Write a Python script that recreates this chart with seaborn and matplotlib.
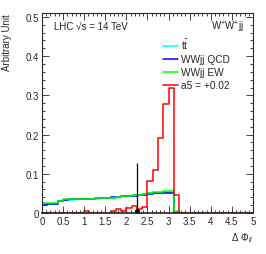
import numpy as np
import pandas as pd
import seaborn as sns
import matplotlib
matplotlib.use("Agg")
import matplotlib.pyplot as plt
from matplotlib.lines import Line2D
from matplotlib.ticker import MultipleLocator

# bin edges: 0.125 wide, values given up to 3.25, rest empty
bin_width = 0.125
edges = [round(i * bin_width, 4) for i in range(41)]

ttbar = [0.024, 0.023, 0.024, 0.031, 0.034, 0.034, 0.035, 0.035, 0.035, 0.036,
         0.036, 0.037, 0.038, 0.039, 0.041, 0.042, 0.043, 0.045, 0.046, 0.048,
         0.050, 0.051, 0.052, 0.053, 0.054, 0.004]
wwjj_qcd = [0.021, 0.022, 0.023, 0.030, 0.034, 0.035, 0.035, 0.036, 0.036, 0.036,
            0.037, 0.037, 0.038, 0.040, 0.041, 0.042, 0.043, 0.044, 0.046, 0.047,
            0.048, 0.050, 0.051, 0.052, 0.052, 0.0]
wwjj_ew = [0.025, 0.025, 0.025, 0.030, 0.035, 0.035, 0.035, 0.035, 0.036, 0.036,
           0.037, 0.037, 0.038, 0.039, 0.041, 0.042, 0.043, 0.045, 0.047, 0.048,
           0.051, 0.053, 0.054, 0.055, 0.055, 0.006]
a5 = [0, 0, 0, 0, 0, 0, 0, 0, 0.004, 0,
      0, 0, 0, 0.006, 0.009, 0.004, 0.013, 0.018, 0.010, 0.014,
      0.082, 0.110, 0.192, 0.279, 0.319, 0.045]

# single point (with error bar) from the QCD sample
spike_x = [2.25]
spike_y = [0.006]
spike_err = [0.121]

labels = ["t$\\bar{\\rm t}$", "WWjj QCD", "WWjj EW", "a5 = +0.02"]
colors = ["#00ffff", "#0000ff", "#00ff00", "#ff0000"]

n_bins = len(edges) - 1
centers = [e + bin_width / 2 for e in edges[:-1]]
rows = []
for name, vals in zip(labels, [ttbar, wwjj_qcd, wwjj_ew, a5]):
    full = list(vals) + [0.0] * (n_bins - len(vals))
    for c, v in zip(centers, full):
        rows.append({"x": c, "w": v, "sample": name})
df = pd.DataFrame(rows)

sns.set_style("ticks")
plt.rcParams["font.family"] = ["Liberation Sans", "DejaVu Sans"]
plt.rcParams["mathtext.fontset"] = "custom"
plt.rcParams["mathtext.rm"] = "Liberation Sans"
plt.rcParams["mathtext.it"] = "Liberation Sans:italic"

fig = plt.figure(figsize=(2.66, 2.55), dpi=100)
ax = fig.add_axes([0.158, 0.161, 0.793, 0.784])

for name, col in zip(labels, colors):
    sub = df[df["sample"] == name].reset_index(drop=True)
    sns.histplot(data=sub, x="x", weights="w", bins=edges,
                 element="step", fill=False, color=col, linewidth=1.1,
                 zorder=1, ax=ax)
    if name == "WWjj EW":
        ax.errorbar(spike_x, spike_y, yerr=spike_err, fmt="o", color="black",
                    ms=2.5, elinewidth=0.9, capsize=0, zorder=1.5)

ax.set_xlim(0, 5)
ax.set_ylim(0, 0.51)
ax.xaxis.set_minor_locator(MultipleLocator(0.1))
ax.yaxis.set_minor_locator(MultipleLocator(0.02))
ax.set_xticks([i * 0.5 for i in range(11)])
ax.set_xticklabels(["0", "0.5", "1", "1.5", "2", "2.5", "3", "3.5", "4", "4.5", "5"])
ax.set_yticks([0, 0.1, 0.2, 0.3, 0.4, 0.5])
ax.set_yticklabels(["0", "0.1", "0.2", "0.3", "0.4", "0.5"])
ax.tick_params(which="both", direction="in", top=True, right=True,
               labelsize=7, width=0.6, pad=2)
ax.tick_params(which="major", length=5)
ax.tick_params(which="minor", length=2.5)
for s in ax.spines.values():
    s.set_linewidth(0.8)
    s.set_zorder(3)
ax.spines["bottom"].set_linewidth(1.2)

ax.set_xlabel("Δ Φ$_{ll}$", loc="right", fontsize=7, labelpad=3)
ax.set_ylabel("Arbitrary Unit", loc="top", fontsize=7, labelpad=10)

ax.text(0.055, 0.935, "LHC √s = 14 TeV", transform=ax.transAxes,
        fontsize=7, va="center", ha="left")
ax.text(0.955, 0.935, "W$^{+}$W$^{+}$jj", transform=ax.transAxes,
        fontsize=7, va="center", ha="right")

handles = [Line2D([], [], color=c, lw=1.1) for c in colors]
ax.legend(handles, labels, loc="upper left", bbox_to_anchor=(0.55, 0.905),
          frameon=False, fontsize=7.3, handlelength=1.5, handletextpad=0.3,
          labelspacing=0.3, borderpad=0)

fig.savefig("out.png", dpi=100)
